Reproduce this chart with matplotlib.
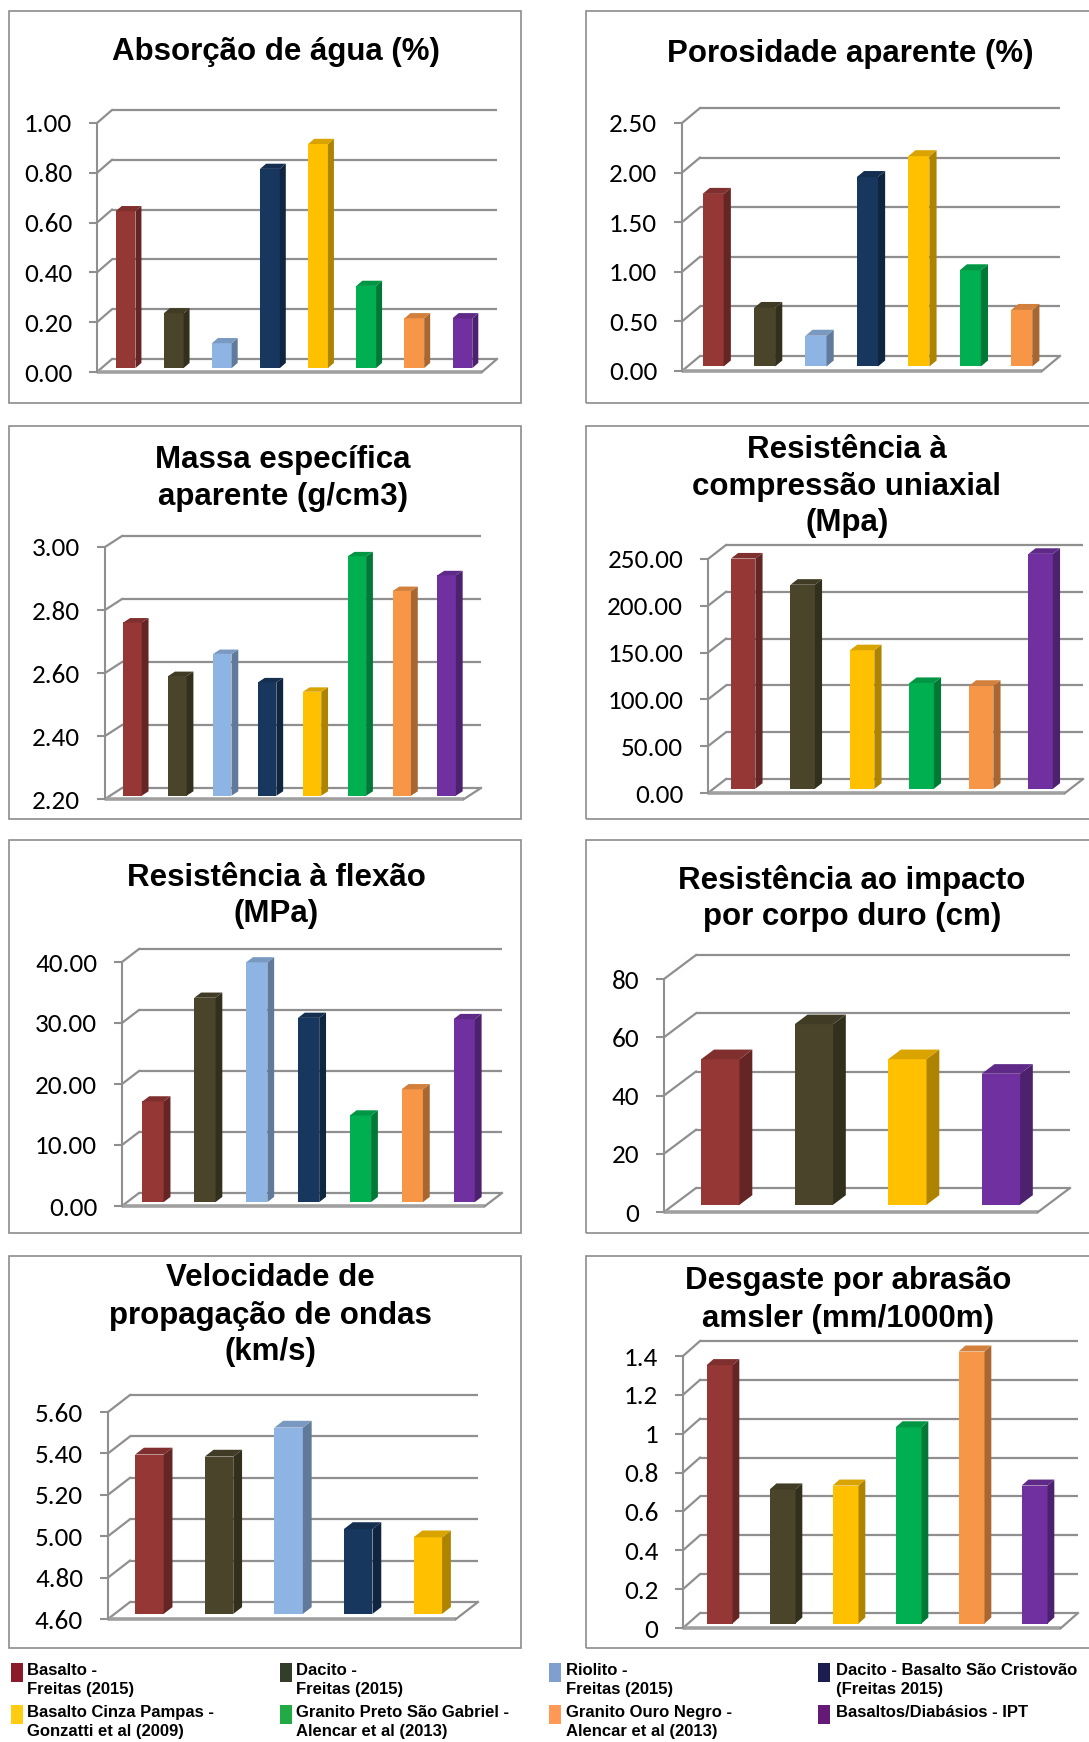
import matplotlib
matplotlib.use("Agg")
import matplotlib.pyplot as plt
from matplotlib import font_manager
from matplotlib.colors import to_rgb
from matplotlib.patches import Rectangle

W, H = 1089, 1742

installed = {f.name for f in font_manager.fontManager.ttflist}
TICK_FONT = "Carlito" if "Carlito" in installed else "Lato"
TITLE_FONT = "Liberation Sans"

# series (legend order)
series_names = [
    ["Basalto -", "Freitas (2015)"],
    ["Dacito -", "Freitas (2015)"],
    ["Riolito -", "Freitas (2015)"],
    ["Dacito - Basalto São Cristovão", "(Freitas 2015)"],
    ["Basalto Cinza Pampas -", "Gonzatti et al (2009)"],
    ["Granito Preto São Gabriel -", "Alencar et al (2013)"],
    ["Granito Ouro Negro -", "Alencar et al (2013)"],
    ["Basaltos/Diabásios - IPT"],
]
bar_colors = ["#953735", "#4a452a", "#8eb4e3", "#17375e",
              "#ffc000", "#00b050", "#f79646", "#7030a0"]
legend_colors = ["#8b1a2b", "#333d2a", "#7f9fcf", "#1a1e4e",
                 "#ffcc11", "#22aa44", "#ff9955", "#661a77"]

# chart data
absorcao_series = [0, 1, 2, 3, 4, 5, 6, 7]
absorcao_values = [0.63, 0.22, 0.10, 0.80, 0.90, 0.33, 0.20, 0.20]
absorcao_ticks = [0.0, 0.2, 0.4, 0.6, 0.8, 1.0]

porosidade_series = [0, 1, 2, 3, 4, 5, 6]
porosidade_values = [1.74, 0.59, 0.31, 1.91, 2.12, 0.97, 0.57]
porosidade_ticks = [0.0, 0.5, 1.0, 1.5, 2.0, 2.5]

massa_series = [0, 1, 2, 3, 4, 5, 6, 7]
massa_values = [2.75, 2.58, 2.65, 2.56, 2.53, 2.96, 2.85, 2.90]
massa_ticks = [2.2, 2.4, 2.6, 2.8, 3.0]

compressao_series = [0, 1, 4, 5, 6, 7]
compressao_values = [246, 218, 148, 113, 110, 251]
compressao_ticks = [0, 50, 100, 150, 200, 250]

flexao_series = [0, 1, 2, 3, 5, 6, 7]
flexao_values = [16.5, 33.5, 39.3, 30.2, 14.2, 18.5, 30.0]
flexao_ticks = [0, 10, 20, 30, 40]

impacto_series = [0, 1, 4, 7]
impacto_values = [50, 62, 50, 45]
impacto_ticks = [0, 20, 40, 60, 80]

velocidade_series = [0, 1, 2, 3, 4]
velocidade_values = [5.37, 5.36, 5.50, 5.01, 4.97]
velocidade_ticks = [4.6, 4.8, 5.0, 5.2, 5.4, 5.6]

desgaste_series = [0, 1, 4, 5, 6, 7]
desgaste_values = [1.33, 0.69, 0.71, 1.01, 1.40, 0.71]
desgaste_ticks = [0, 0.2, 0.4, 0.6, 0.8, 1.0, 1.2, 1.4]

GRID = "#8f8f8f"


def shade(color, k):
    r, g, b = to_rgb(color)
    return (r * k, g * k, b * k)


def fx(px):
    return px / W


def fy(py):
    return 1 - py / H


def panel(fig, box, title_lines, title_x, title_ys, geom,
          idx, vals, ticks, fmt):
    # panel frame
    l, t, r, b = box
    fig.patches.append(Rectangle((fx(l), fy(b)), fx(r - l), (b - t) / H,
                                 transform=fig.transFigure, fill=False,
                                 edgecolor="#8c8c8c", lw=1.2))
    for line, y in zip(title_lines, title_ys):
        fig.text(fx(title_x), fy(y), line, ha="center", va="center",
                 fontsize=22.5, fontweight="bold", family=TITLE_FONT)

    x0, yt, yb, xr, Dx, Dy = geom
    n = len(vals)
    vmin, vmax = ticks[0], ticks[-1]
    px_cat = (xr - Dx - x0) / n
    px_val = (yb - yt) / (vmax - vmin)
    ddx = Dx / px_cat
    ddy = Dy / px_val

    ax = fig.add_axes([fx(x0), fy(yb), (xr - x0) / W, (yb - yt + Dy) / H])
    ax.set_xlim(-0.5, n - 0.5 + ddx)
    ax.set_ylim(vmin, vmax + ddy)
    ax.patch.set_visible(False)
    for s in ["top", "right", "bottom"]:
        ax.spines[s].set_visible(False)
    ax.spines["left"].set_bounds(vmin, vmax)
    ax.spines["left"].set_color(GRID)
    ax.spines["left"].set_linewidth(1.5)
    ax.set_xticks([])
    ax.set_yticks(ticks)
    ax.set_yticklabels([fmt(v) for v in ticks], family=TICK_FONT, fontsize=19.5)
    ax.tick_params(axis="y", direction="out", length=5.8, width=1.5,
                   color=GRID, pad=12)

    # back wall grid + side wall diagonals
    for v in ticks:
        ax.plot([-0.5 + ddx, n - 0.5 + ddx], [v + ddy, v + ddy],
                color=GRID, lw=1.6, zorder=1, clip_on=False,
                solid_capstyle="butt")
        ax.plot([-0.5, -0.5 + ddx], [v, v + ddy], color=GRID, lw=1.6,
                zorder=1, clip_on=False)
    # floor
    ax.plot([-0.5, n - 0.5], [vmin, vmin], color="#a0a0a0", lw=2.6,
            zorder=1, clip_on=False, solid_capstyle="butt")
    ax.plot([n - 0.5, n - 0.5 + ddx], [vmin, vmin + ddy], color=GRID,
            lw=1.6, zorder=1, clip_on=False)

    # 3d bars
    w = 0.41
    f0, f1 = 0.3, 0.7
    for i, (k, v) in enumerate(zip(idx, vals)):
        c = bar_colors[k]
        ax.bar(i + f0 * ddx, v - vmin, bottom=vmin + f0 * ddy, width=w,
               color=c, zorder=3)
        xa = i - w / 2
        xb = i + w / 2
        ax.fill([xb + f0 * ddx, xb + f0 * ddx, xb + f1 * ddx, xb + f1 * ddx],
                [vmin + f0 * ddy, v + f0 * ddy, v + f1 * ddy, vmin + f1 * ddy],
                color=shade(c, 0.68), zorder=3, clip_on=False, lw=0)
        ax.fill([xa + f0 * ddx, xb + f0 * ddx, xb + f1 * ddx, xa + f1 * ddx],
                [v + f0 * ddy, v + f0 * ddy, v + f1 * ddy, v + f1 * ddy],
                color=shade(c, 0.85), zorder=3, clip_on=False, lw=0)
    return ax


fig = plt.figure(figsize=(W / 100, H / 100), dpi=100)
fig.patch.set_facecolor("white")

f2 = lambda v: "%.2f" % v
fg = lambda v: "%g" % v
LC = (9, 521)
RC = (586, 1110)
rows = [(11, 403), (426, 819), (840, 1233), (1256, 1648)]

panel(fig, (LC[0], rows[0][0], LC[1], rows[0][1]),
      ["Absorção de água (%)"], 276, [52],
      (97, 123, 372, 497, 15, 13),
      absorcao_series, absorcao_values, absorcao_ticks, f2)
panel(fig, (RC[0], rows[0][0], RC[1], rows[0][1]),
      ["Porosidade aparente (%)"], 850, [54],
      (682, 123, 371, 1060, 18, 15),
      porosidade_series, porosidade_values, porosidade_ticks, f2)
panel(fig, (LC[0], rows[1][0], LC[1], rows[1][1]),
      ["Massa específica", "aparente (g/cm3)"], 283, [460, 497],
      (105, 547, 799, 481, 17, 11),
      massa_series, massa_values, massa_ticks, f2)
panel(fig, (RC[0], rows[1][0], RC[1], rows[1][1]),
      ["Resistência à", "compressão uniaxial", "(Mpa)"], 847, [450, 487, 523],
      (708, 559, 793, 1083, 18, 14),
      compressao_series, compressao_values, compressao_ticks, f2)
panel(fig, (LC[0], rows[2][0], LC[1], rows[2][1]),
      ["Resistência à flexão", "(MPa)"], 276, [878, 914],
      (122, 962, 1206, 502, 17, 13),
      flexao_series, flexao_values, flexao_ticks, f2)
panel(fig, (RC[0], rows[2][0], RC[1], rows[2][1]),
      ["Resistência ao impacto", "por corpo duro (cm)"], 852, [880, 917],
      (664, 979, 1212, 1070, 32, 24),
      impacto_series, impacto_values, impacto_ticks, fg)
panel(fig, (LC[0], rows[3][0], LC[1], rows[3][1]),
      ["Velocidade de", "propagação de ondas", "(km/s)"], 270, [1278, 1316, 1352],
      (108, 1412, 1619, 478, 22, 17),
      velocidade_series, velocidade_values, velocidade_ticks, f2)
panel(fig, (RC[0], rows[3][0], RC[1], rows[3][1]),
      ["Desgaste por abrasão", "amsler (mm/1000m)"], 848, [1281, 1319],
      (683, 1356, 1628, 1078, 17, 15),
      desgaste_series, desgaste_values, desgaste_ticks, fg)

# legend
sq_x = [11, 280, 549, 818]
tx_x = [27, 296, 566, 836]
row_y = [1670, 1712]
for k, lines in enumerate(series_names):
    col, row = k % 4, k // 4
    y = row_y[row]
    fig.patches.append(Rectangle((fx(sq_x[col]), fy(y + 12)), 12 / W, 19 / H,
                                 transform=fig.transFigure,
                                 facecolor=legend_colors[k], edgecolor="none"))
    for j, line in enumerate(lines):
        fig.text(fx(tx_x[col]), fy(y + j * 19.5), line, ha="left", va="center",
                 fontsize=12, fontweight="bold", family=TITLE_FONT)

fig.savefig("out.png", dpi=100, facecolor="white")
